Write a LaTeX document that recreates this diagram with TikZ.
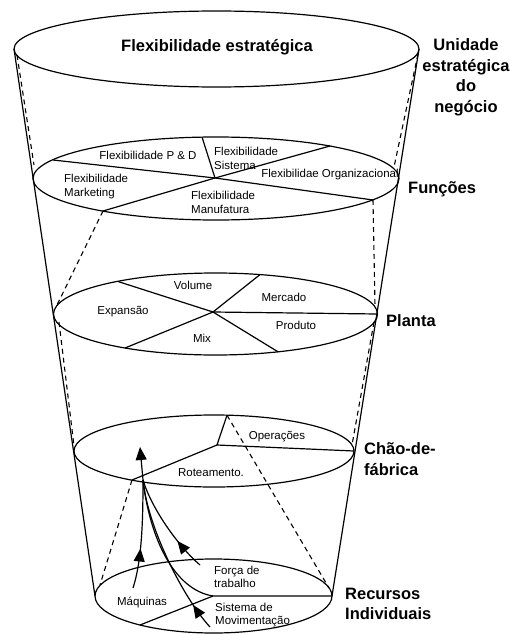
\documentclass[tikz,border=0pt]{standalone}
\usepackage{fontspec}
\setmainfont{Liberation Sans}
\usetikzlibrary{arrows.meta,decorations.markings}
\begin{document}
\begin{tikzpicture}[x=1pt,y=-1pt,
  ln/.style={line width=1.2pt, line join=round},
  hid/.style={line width=1.1pt, dash pattern=on 5pt off 4pt},
  lbl/.style={font=\fontsize{11.5}{13.5}\selectfont, inner sep=0pt, align=left},
  big/.style={font=\fontsize{16.5}{20.5}\selectfont\bfseries, inner sep=0pt},
  arr/.style={-{Triangle[length=13pt,width=11pt]}},
  midarrow/.style={postaction={decorate}, decoration={markings,
     mark=at position #1 with {\arrow{Triangle[length=13pt,width=11pt]}}}},
]
\useasboundingbox (0,0) rectangle (514,634);
\fill[white] (0,0) rectangle (514,634);

% ellipse centres
\coordinate (tc) at (216.5,49);
\coordinate (fc) at (216,178.5);
\coordinate (pc) at (215.5,314);
\coordinate (cc) at (214,451);
\coordinate (rc) at (213.5,596);

% cone outline
\coordinate (tl) at (14,49);
\coordinate (tr) at (419,49);
\coordinate (rl) at (95,596);
\coordinate (rr) at (332,596);
\draw[ln] (tl) -- (rl);
\draw[ln] (tr) -- (rr);

% ellipses
\draw[ln] (tc) ellipse [x radius=202.5pt, y radius=38pt];
\draw[ln] (fc) ellipse [x radius=183pt, y radius=41.5pt];
\draw[ln] (pc) ellipse [x radius=162pt, y radius=41pt];
\draw[ln] (cc) ellipse [x radius=140pt, y radius=36pt];
\draw[ln] (rc) ellipse [x radius=118.5pt, y radius=37pt];

% Funcoes sectors
\coordinate (f0) at (215,178);
\draw[ln] (53,160) -- (f0) -- (373,200);
\draw[ln] (103,211) -- (f0) -- (330,146);
\draw[ln] (202,137) -- (f0);

% Planta sectors
\coordinate (p0) at (213,312);
\draw[ln] (118,281.5) -- (p0) -- (278,351.8);
\draw[ln] (125,348) -- (p0) -- (260,274.6);
\draw[ln] (p0) -- (377.5,314);

% Chao-de-fabrica sectors
\coordinate (c0) at (217,445);
\coordinate (ctop) at (227,415.2);
\coordinate (cll) at (132,480);
\draw[ln] (ctop) -- (c0) -- (354,451);
\draw[ln] (c0) -- (cll);

% Recursos sectors
\coordinate (r0) at (213,596);
\draw[ln] (140,625) -- (r0) -- (rr);

% hidden (dashed) lines
\draw[hid] (17,55) -- (34,165);
\draw[hid] (418,54) -- (394,167);
\draw[hid] (103,211) -- (57,305);
\draw[hid] (373,200) -- (375,306);
\draw[hid] (59,322) -- (74,446);
\draw[hid] (374,322) -- (352,445);
\draw[hid] (cll) -- (100,585);
\draw[hid] (ctop) -- (329,588);

% arrows
\coordinate (conv) at (143,480);
\coordinate (up) at (140,447);
\draw[ln, arr] (conv) -- (up);
\draw[ln, midarrow=0.37] (133,588) .. controls (142,560) and (143,520) .. (conv);
\draw[ln, midarrow=0.32] (200,565) .. controls (180,548) and (152,510) .. (conv);
\draw[ln] (r0) .. controls (175,590) and (150,540) .. (conv);
\draw[ln, midarrow=0.17] (210,627) .. controls (185,600) and (148,530) .. (conv);

% big labels
\node[big] (t1) at (217,47) {Flexibilidade estratégica};
\node[big, align=center] (t2) at (466,77.5) {Unidade\\estratégica\\do\\negócio};
\node[big, anchor=west] (t3) at (408,189) {Funções};
\node[big, anchor=west] (t4) at (386,321) {Planta};
\node[big, anchor=west, align=left] (t5) at (364,459) {Chão-de-\\fábrica};
\node[big, anchor=west, align=left] (t6) at (345,604) {Recursos\\Individuais};

% small labels
\node[lbl] (a1) at (148,155) {Flexibilidade P \& D};
\node[lbl, anchor=west] (a2) at (214,158.5) {Flexibilidade\\Sistema};
\node[lbl] (a3) at (330,175) {Flexibilidae Organizacional};
\node[lbl, anchor=west] (a4) at (64,186.5) {Flexibilidade\\Marketing};
\node[lbl, anchor=west] (a5) at (191,202.5) {Flexibilidade\\Manufatura};

\node[lbl] (b1) at (193,285) {Volume};
\node[lbl] (b2) at (284,297) {Mercado};
\node[lbl] (b3) at (123,312) {Expansão};
\node[lbl] (b4) at (296,325) {Produto};
\node[lbl] (b5) at (202,338) {Mix};

\node[lbl] (c1) at (277,437) {Operações};
\node[lbl] (c2) at (211,473) {Roteamento.};

\node[lbl] (d1) at (142,602) {Máquinas};
\node[lbl, anchor=west] (d2) at (214,577) {Força de\\trabalho};
\node[lbl, anchor=west] (d3) at (215,615) {Sistema de\\Movimentação};
\end{tikzpicture}
\end{document}
